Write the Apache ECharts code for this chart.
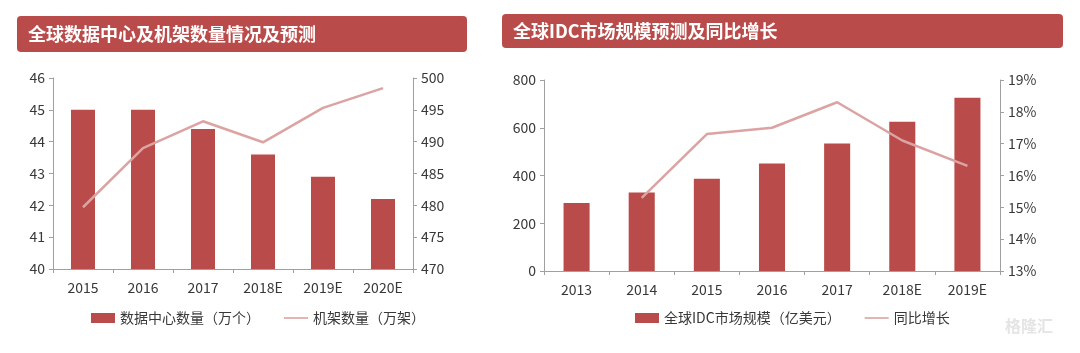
<!DOCTYPE html>
<html>
<head>
<meta charset="utf-8">
<script src="https://cdn.jsdelivr.net/npm/echarts@6/dist/echarts.min.js"></script>
<style>
  html, body { margin: 0; padding: 0; background: #fff; }
  #main { width: 1080px; height: 353px; }
</style>
</head>
<body>
<div id="main"></div>
<script>
// 左图：数据中心及机架
const dcYears = ['2015', '2016', '2017', '2018E', '2019E', '2020E']
const dcCount = [45, 45, 44.4, 43.6, 42.9, 42.2]      // 万个
const rackCount = [479.7, 489, 493.2, 489.9, 495.3, 498.4] // 万架

// 右图：IDC市场规模
const idcYears = ['2013', '2014', '2015', '2016', '2017', '2018E', '2019E']
const idcSize = [285, 329, 386, 450, 534, 625, 726]    // 亿美元
const idcGrowth = [null, 15.3, 17.3, 17.5, 18.3, 17.1, 16.3] // %

const barColor = '#b94c4a'
const lineColor = '#dba3a2'
const axisColor = '#a0a0a0'
const textColor = '#383838'
const font = '"Noto Sans CJK SC", "Noto Sans", sans-serif'
const lineIcon = 'path://M0,4.2 L24,4.2 L24,5.8 L0,5.8 Z'

const chart = echarts.init(document.getElementById('main'))

const axisCommon = {
  axisLine: { show: true, lineStyle: { color: axisColor } },
  axisTick: { show: true, length: 4, lineStyle: { color: axisColor } },
  splitLine: { show: false },
  axisLabel: { color: textColor, fontSize: 14, fontFamily: font }
}

const banner = (x, y, w, h, text) => ({
  type: 'group',
  left: x,
  top: y,
  children: [
    { type: 'rect', shape: { x: 0, y: 0, width: w, height: h, r: 4 }, style: { fill: '#b94c4a' } },
    { type: 'text', x: 11, y: h / 2, style: { text: text, fill: '#fff', font: 'bold 18px ' + font, textVerticalAlign: 'middle' } }
  ]
})

const legendCommon = {
  top: 306, itemWidth: 24, itemHeight: 10, itemGap: 24,
  textStyle: { color: textColor, fontSize: 14, fontFamily: font }
}

const option = {
  animation: false,
  textStyle: { fontFamily: font },
  graphic: [
    banner(17, 16, 450, 36, '全球数据中心及机架数量情况及预测'),
    banner(502, 14, 561, 34, '全球IDC市场规模预测及同比增长'),
    { type: 'text', left: 1005, top: 318, style: { text: '格隆汇', fill: '#e4e4e4', font: 'bold 16px ' + font } }
  ],
  grid: [
    { left: 53, top: 78, width: 360, height: 191 },
    { left: 544, top: 80, width: 456, height: 191 }
  ],
  legend: [
    Object.assign({}, legendCommon, {
      left: 86,
      data: [{ name: '数据中心数量（万个）', icon: 'rect' }, { name: '机架数量（万架）', icon: lineIcon }]
    }),
    Object.assign({}, legendCommon, {
      left: 630,
      data: [{ name: '全球IDC市场规模（亿美元）', icon: 'rect' }, { name: '同比增长', icon: lineIcon }]
    })
  ],
  xAxis: [
    Object.assign({}, axisCommon, { type: 'category', gridIndex: 0, data: dcYears, axisLabel: Object.assign({}, axisCommon.axisLabel, { margin: 12 }) }),
    Object.assign({}, axisCommon, { type: 'category', gridIndex: 1, data: idcYears, axisLabel: Object.assign({}, axisCommon.axisLabel, { margin: 12 }) })
  ],
  yAxis: [
    Object.assign({}, axisCommon, { type: 'value', gridIndex: 0, min: 40, max: 46, interval: 1 }),
    Object.assign({}, axisCommon, { type: 'value', gridIndex: 0, position: 'right', min: 470, max: 500, interval: 5 }),
    Object.assign({}, axisCommon, { type: 'value', gridIndex: 1, min: 0, max: 800, interval: 200 }),
    Object.assign({}, axisCommon, {
      type: 'value', gridIndex: 1, position: 'right', min: 13, max: 19, interval: 1,
      axisLabel: Object.assign({}, axisCommon.axisLabel, { formatter: '{value}%' })
    })
  ],
  series: [
    { name: '数据中心数量（万个）', type: 'bar', xAxisIndex: 0, yAxisIndex: 0, data: dcCount, barWidth: '40%', itemStyle: { color: barColor } },
    { name: '机架数量（万架）', type: 'line', xAxisIndex: 0, yAxisIndex: 1, data: rackCount, symbol: 'none', lineStyle: { color: lineColor, width: 2.5 }, itemStyle: { color: lineColor } },
    { name: '全球IDC市场规模（亿美元）', type: 'bar', xAxisIndex: 1, yAxisIndex: 2, data: idcSize, barWidth: '40%', itemStyle: { color: barColor } },
    { name: '同比增长', type: 'line', xAxisIndex: 1, yAxisIndex: 3, data: idcGrowth, symbol: 'none', lineStyle: { color: lineColor, width: 2.5 }, itemStyle: { color: lineColor } }
  ]
}

chart.setOption(option)
</script>
</body>
</html>
